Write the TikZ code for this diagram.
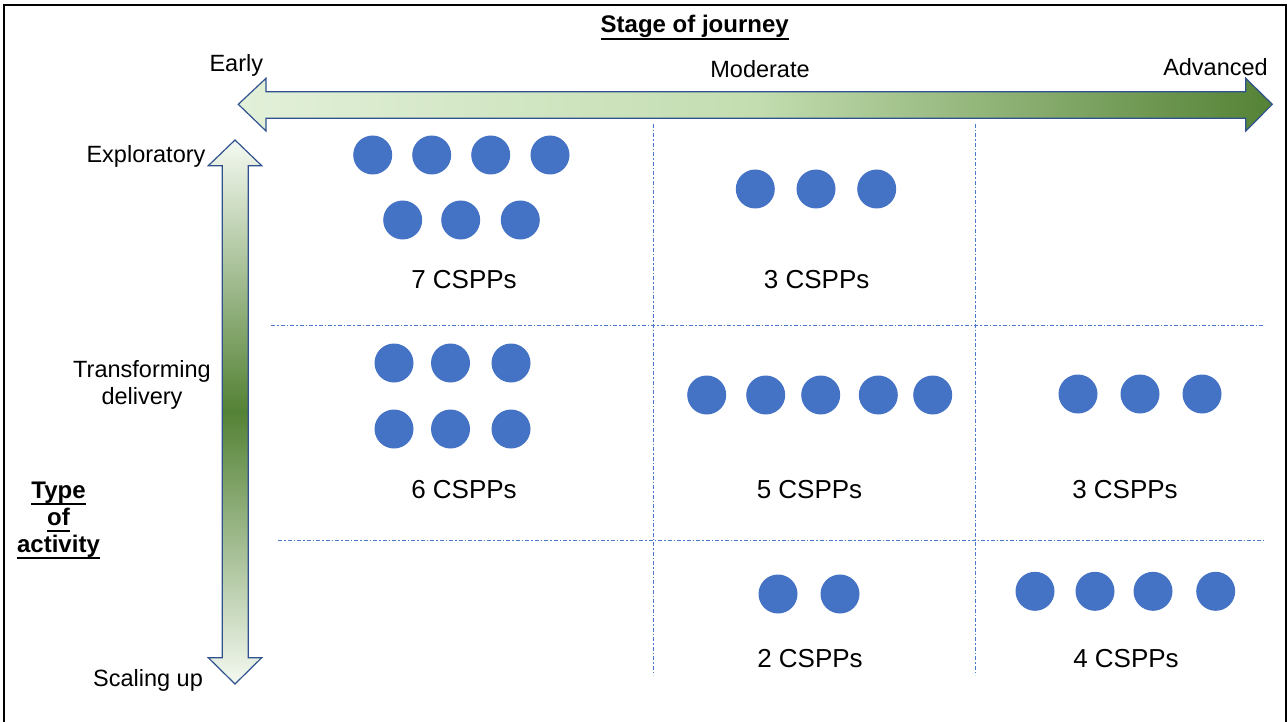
\documentclass[tikz,border=0pt]{standalone}
\usepackage{fontspec}
\setmainfont{Liberation Sans}

\definecolor{gPale}{HTML}{F4F9F1}
\definecolor{gLight}{HTML}{E2F0D9}
\definecolor{gMid}{HTML}{C3DDB0}
\definecolor{gDark}{HTML}{548235}
\definecolor{arrowEdge}{HTML}{2F528F}
\definecolor{dotBlue}{HTML}{4472C4}
\definecolor{gridBlue}{HTML}{4A78CC}

% left-to-right: pale to dark green (25bp..75bp spans the path)
\pgfdeclarehorizontalshading{stagegrad}{100bp}{color(0bp)=(gLight); color(25bp)=(gLight); color(50bp)=(gMid); color(75bp)=(gDark); color(100bp)=(gDark)}
% top and bottom pale, dark green in the middle
\pgfdeclareverticalshading{typegrad}{100bp}{color(0bp)=(gPale); color(25bp)=(gPale); color(50bp)=(gDark); color(75bp)=(gPale); color(100bp)=(gPale)}

% bold heading with a thick underline below the descenders
\newcommand\headline[1]{\setbox0\hbox{#1}\leavevmode\rlap{\copy0}\rule[-7pt]{\wd0}{2pt}}

\begin{document}
\begin{tikzpicture}[x=1pt,y=-1pt,
  frame/.style={draw=black, line width=2pt},
  gridline/.style={draw=gridBlue, line width=1pt, dash pattern=on 4pt off 2pt on 1.5pt off 2pt},
  bigarrow/.style={draw=arrowEdge, line width=1.2pt, line join=miter},
  dot/.style={circle, fill=dotBlue, minimum size=39pt, inner sep=0pt, outer sep=0pt},
  axislbl/.style={anchor=base, inner sep=0pt, font=\fontsize{23.5}{28}\selectfont},
  countlbl/.style={anchor=base, inner sep=0pt, font=\fontsize{26}{30}\selectfont},
  headlbl/.style={anchor=base, inner sep=0pt, font=\fontsize{24}{28}\selectfont\bfseries},
]
\useasboundingbox (0,0) rectangle (1287,722);

% outer frame
\draw[frame] (4,723) -- (4,5) -- (1285.5,5) -- (1285.5,723);

% dash-dot grid separating the cells
\draw[gridline] (653,124) -- (653,675);
\draw[gridline] (975,124) -- (975,675);
\draw[gridline] (271,325) -- (1265,325);
\draw[gridline] (278,540) -- (1265,540);

% stage of journey: horizontal double arrow
\draw[bigarrow, shading=stagegrad]
  (238.3,104.3) -- (266,78.3) -- (266,91.7) -- (1245.7,91.7) -- (1245.7,78.3)
  -- (1272.3,104.3) -- (1245.7,131) -- (1245.7,118.3) -- (266,118.3) -- (266,131) -- cycle;

% type of activity: vertical double arrow
\draw[bigarrow, shading=typegrad]
  (235,140) -- (261.7,165.7) -- (248.3,165.7) -- (248.3,657.7) -- (261.7,657.7)
  -- (235,684) -- (208.3,657.7) -- (222.3,657.7) -- (222.3,165.7) -- (208.3,165.7) -- cycle;

% headings
\node[headlbl] (stage) at (694.7,33) {\headline{Stage of journey}};
\node[headlbl] (type) at (58.5,498) {\headline{Type}};
\node[headlbl] (of) at (58.5,525) {\headline{of}};
\node[headlbl] (activity) at (58.5,552) {\headline{activity}};

% stage labels
\node[axislbl] (early) at (236.3,71.7) {Early};
\node[axislbl] (moderate) at (760,78) {Moderate};
\node[axislbl] (advanced) at (1215.5,76) {Advanced};

% activity labels
\node[axislbl] (exploratory) at (146,163) {Exploratory};
\node[axislbl] (transforming) at (142,377) {Transforming};
\node[axislbl] (delivery) at (142,404.5) {delivery};
\node[axislbl] (scaling) at (148,686) {Scaling up};

% early / exploratory
\foreach \x [count=\i] in {372.7,431.7,490.7,550}
  \node[dot] (ee\i) at (\x,155) {};
\foreach \x [count=\i from 5] in {402.7,460.7,520.3}
  \node[dot] (ee\i) at (\x,220) {};
\node[countlbl] (eeN) at (464,288) {7 CSPPs};

% moderate / exploratory
\foreach \x [count=\i] in {755.3,816,876.7}
  \node[dot] (me\i) at (\x,189) {};
\node[countlbl] (meN) at (816.7,288) {3 CSPPs};

% early / transforming
\foreach \x [count=\i] in {394,450.5,511}
  \node[dot] (et\i) at (\x,363) {};
\foreach \x [count=\i from 4] in {394,450.5,511}
  \node[dot] (et\i) at (\x,429) {};
\node[countlbl] (etN) at (464,498) {6 CSPPs};

% moderate / transforming
\foreach \x [count=\i] in {706.7,765.7,820.7,878.3,932.7}
  \node[dot] (mt\i) at (\x,395) {};
\node[countlbl] (mtN) at (809.5,498.3) {5 CSPPs};

% advanced / transforming
\foreach \x [count=\i] in {1078,1140,1202}
  \node[dot] (at\i) at (\x,394) {};
\node[countlbl] (atN) at (1125,498) {3 CSPPs};

% moderate / scaling up
\foreach \x [count=\i] in {778,840}
  \node[dot] (ms\i) at (\x,594) {};
\node[countlbl] (msN) at (810,667) {2 CSPPs};

% advanced / scaling up
\foreach \x [count=\i] in {1035,1095,1153,1215.7}
  \node[dot] (as\i) at (\x,591.3) {};
\node[countlbl] (asN) at (1126,667.7) {4 CSPPs};
\end{tikzpicture}
\end{document}
